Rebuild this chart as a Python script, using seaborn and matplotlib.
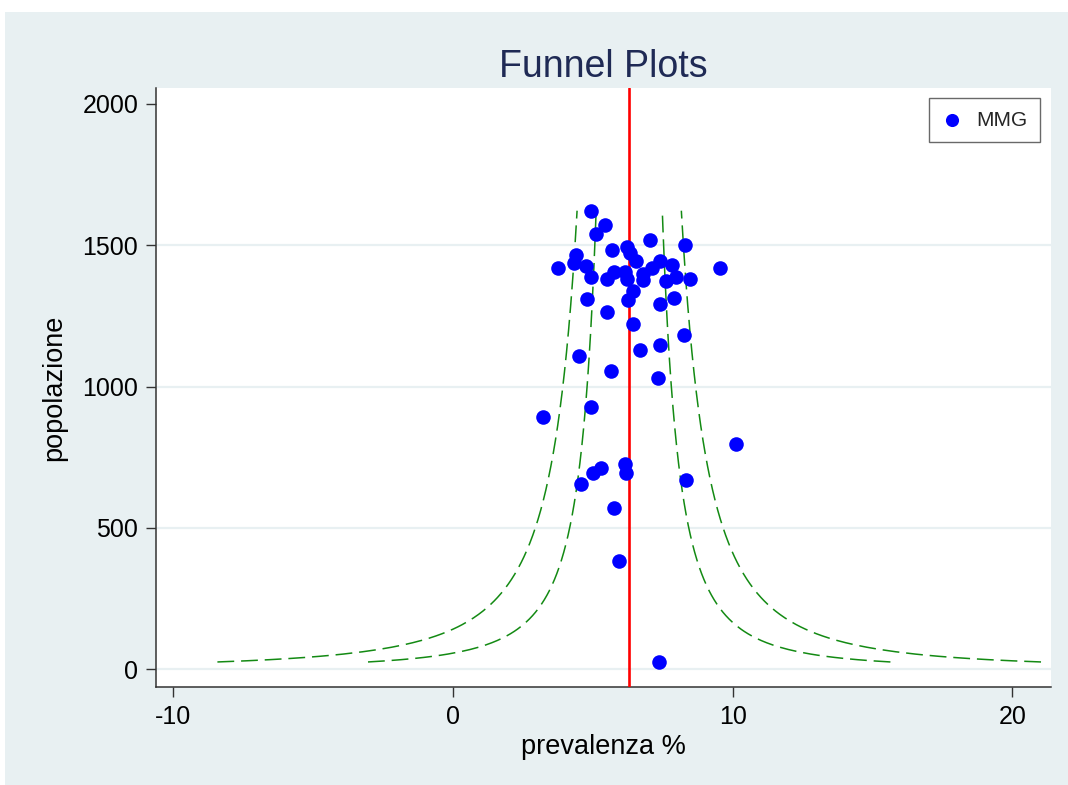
import numpy as np
import pandas as pd
import matplotlib
matplotlib.use("Agg")
import matplotlib.pyplot as plt
from matplotlib.patches import Rectangle
import seaborn as sns

# Prevalence (%) and practice population for each MMG
prevalenza = [4.92, 5.45, 5.13, 7.05, 8.31, 5.69, 6.21, 6.33, 6.55, 4.41,
              4.33, 3.77, 4.76, 4.95, 5.52, 5.76, 6.15, 6.21, 6.43, 6.25,
              6.81, 6.79, 7.11, 7.39, 7.83, 7.61, 7.98, 8.46, 9.55, 4.80,
              5.52, 7.39, 7.90, 6.45, 8.27, 6.70, 7.39, 4.49, 5.66, 7.33,
              4.92, 3.21, 10.12, 6.16, 6.19, 5.30, 5.02, 4.57, 8.32, 5.75,
              5.95, 7.38]
popolazione = [1622, 1573, 1540, 1518, 1500, 1483, 1493, 1471, 1445, 1464,
               1438, 1421, 1427, 1387, 1380, 1406, 1405, 1380, 1338, 1305,
               1376, 1397, 1418, 1445, 1431, 1375, 1387, 1381, 1421, 1310,
               1264, 1292, 1312, 1221, 1181, 1131, 1148, 1108, 1055, 1031,
               929, 894, 797, 726, 693, 713, 693, 657, 671, 571,
               382, 26]

# Pooled prevalence and control-limit levels (95% and 99.8%)
prevalenza_media = 6.3
z_limiti = [1.96, 3.09]

x_ticks = [-10, 0, 10, 20]
y_ticks = [0, 500, 1000, 1500, 2000]

df = pd.DataFrame({"prevalenza": prevalenza, "popolazione": popolazione})

sns.set_theme(style="white")
plt.rcParams["font.family"] = ["Liberation Sans", "DejaVu Sans"]
plt.rcParams["axes.unicode_minus"] = False

BG = "#e8f0f2"
fig = plt.figure(figsize=(10.68, 7.85), dpi=100, facecolor="white")
fig.patches.append(Rectangle((5 / 1068, 0), 1, 1 - 12 / 785,
                             transform=fig.transFigure, facecolor=BG,
                             edgecolor="none", zorder=-10))
ax = fig.add_axes([155.7 / 1068, 1 - 686.7 / 785, 895 / 1068, 598.7 / 785])
ax.set_facecolor("white")

# horizontal grid at the inner ticks
for yv in y_ticks[:-1]:
    ax.axhline(yv, color=BG, lw=1.6, zorder=1)

# funnel control limits around the pooled prevalence
n_grid = np.linspace(min(popolazione), max(popolazione), 400)
p = prevalenza_media / 100
se = np.sqrt(p * (1 - p) / n_grid) * 100
for z in z_limiti:
    for sign in (-1, 1):
        ax.plot(prevalenza_media + sign * z * se, n_grid, color="#138a13",
                lw=1.1, dashes=(11, 4.5), zorder=2)

ax.axvline(prevalenza_media, color="#ff0000", lw=1.9, zorder=3)

sns.scatterplot(data=df, x="prevalenza", y="popolazione", ax=ax,
                color="#0000ff", s=110, linewidth=0, label="MMG", zorder=4)

ax.set_xlim(-10.63, 21.37)
ax.set_ylim(-61.5, 2056)
ax.set_xticks(x_ticks)
ax.set_yticks(y_ticks)
ax.tick_params(axis="both", which="major", direction="out", length=7.5,
               width=1.0, color="#333333", labelsize=18, labelcolor="black",
               bottom=True, left=True)
ax.tick_params(axis="x", pad=6)
ax.tick_params(axis="y", pad=5)

for side in ("top", "right"):
    ax.spines[side].set_visible(False)
for side in ("left", "bottom"):
    ax.spines[side].set_color("#333333")
    ax.spines[side].set_linewidth(1.1)

ax.set_xlabel("prevalenza %", fontsize=19.5, color="black", labelpad=3)
ax.set_ylabel("popolazione", fontsize=19.5, color="black", labelpad=11)
ax.set_title("Funnel Plots", fontsize=27, color="#1f2a55", pad=8)

leg = ax.legend(loc="upper right", fontsize=15, frameon=True, fancybox=False,
                borderaxespad=0.5, handlelength=1.0, handletextpad=0.7,
                markerscale=0.9, borderpad=0.6)
leg.get_frame().set_edgecolor("#444444")
leg.get_frame().set_linewidth(1.0)

fig.savefig("out.png", dpi=100, facecolor=fig.get_facecolor())
